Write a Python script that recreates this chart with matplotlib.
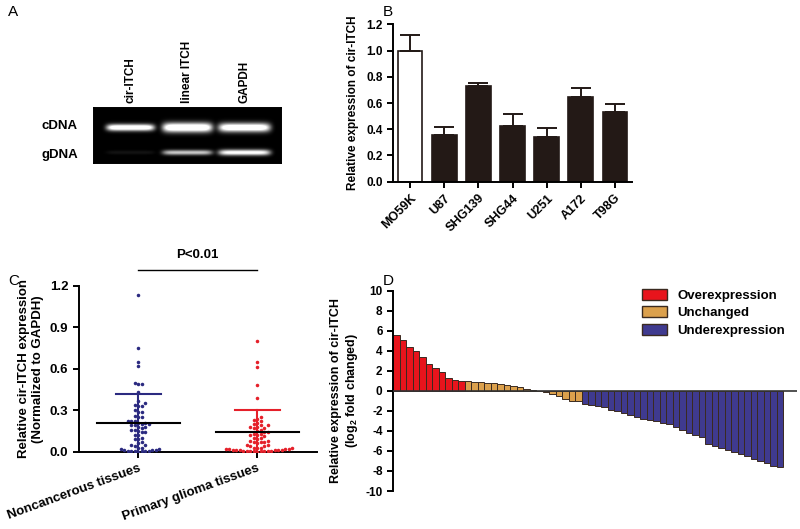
import numpy as np
import matplotlib
matplotlib.use("Agg")
import matplotlib.pyplot as plt
from matplotlib.patches import Patch

plt.rcParams['font.family'] = ['Liberation Sans', 'DejaVu Sans']
plt.rcParams['font.weight'] = 'bold'
plt.rcParams['axes.labelweight'] = 'bold'
plt.rcParams['mathtext.fontset'] = 'custom'
plt.rcParams['mathtext.rm'] = 'Liberation Sans:bold'
plt.rcParams['mathtext.bf'] = 'Liberation Sans:bold'
plt.rcParams['axes.linewidth'] = 1.4
plt.rcParams['xtick.major.width'] = 1.4
plt.rcParams['ytick.major.width'] = 1.4

# ---- panel A: gel
lanes = ['cir-ITCH', 'linear ITCH', 'GAPDH']
cdna_int = [0.95, 1.0, 0.95]
gdna_int = [0.06, 0.6, 0.8]

# ---- panel B: cell lines
cells = ['MO59K', 'U87', 'SHG139', 'SHG44', 'U251', 'A172', 'T98G']
cell_expr = [1.0, 0.355, 0.73, 0.425, 0.338, 0.648, 0.534]
cell_err = [0.12, 0.065, 0.02, 0.09, 0.07, 0.07, 0.06]

# ---- panel C: tissues
noncancer = [1.13, 0.75, 0.65, 0.62, 0.50, 0.49, 0.49, 0.43, 0.37, 0.35, 0.34, 0.33,
             0.33, 0.30, 0.29, 0.29, 0.26, 0.25, 0.25, 0.22, 0.22, 0.22, 0.21, 0.21,
             0.20, 0.20, 0.19, 0.19, 0.18, 0.18, 0.17, 0.16, 0.16, 0.15, 0.14, 0.14,
             0.12, 0.12, 0.10, 0.09, 0.09, 0.07, 0.06, 0.05, 0.05, 0.04, 0.03, 0.03,
             0.02, 0.02, 0.015, 0.01, 0.01, 0.008, 0.005, 0.005, 0.004, 0.003, 0.002, 0.001]
glioma = [0.80, 0.65, 0.61, 0.48, 0.39, 0.25, 0.24, 0.23, 0.22, 0.21, 0.20, 0.19, 0.19,
          0.18, 0.18, 0.17, 0.17, 0.16, 0.15, 0.14, 0.14, 0.13, 0.13, 0.12, 0.12, 0.11,
          0.10, 0.10, 0.09, 0.08, 0.08, 0.07, 0.07, 0.07, 0.06, 0.05, 0.05, 0.04, 0.04,
          0.03, 0.03, 0.03, 0.025, 0.02, 0.02, 0.02, 0.018, 0.015, 0.015, 0.012, 0.01,
          0.01, 0.01, 0.008, 0.008, 0.005, 0.005, 0.004, 0.003, 0.002, 0.002, 0.001]
tissue_labels = ['Noncancerous tissues', 'Primary glioma tissues']
tissue_mean = [0.21, 0.14]
tissue_sd = [0.21, 0.16]

# ---- panel D: fold change
over = [5.6, 5.1, 4.4, 4.0, 3.4, 2.7, 2.3, 1.9, 1.3, 1.1, 0.95]
unch = [0.95, 0.9, 0.85, 0.8, 0.75, 0.7, 0.6, 0.5, 0.4, 0.15, 0.05, -0.05, -0.15,
        -0.3, -0.5, -0.8, -1.0, -1.0]
under = [-1.3, -1.4, -1.5, -1.6, -1.9, -2.0, -2.2, -2.4, -2.6, -2.8, -2.9, -3.0,
         -3.2, -3.3, -3.6, -3.9, -4.2, -4.4, -4.6, -5.3, -5.5, -5.7, -5.9, -6.1,
         -6.3, -6.5, -6.8, -7.0, -7.2, -7.5, -7.6]

fig = plt.figure(figsize=(8, 5.29), dpi=100)
W, H = 800, 529


def rect(x0, y0, x1, y1):
    # pixel box (top-left origin) -> figure fraction
    return [x0 / W, 1 - y1 / H, (x1 - x0) / W, (y1 - y0) / H]


# ---------- A
axA = fig.add_axes(rect(94, 108, 281, 163))
gh, gw = 55, 187
yy, xx = np.mgrid[0:gh, 0:gw]
gel = np.zeros((gh, gw))
centers = [36, 93, 150]
for i, c in enumerate(centers):
    hw = [24, 25, 26][i]
    prof = np.exp(-((xx - c) / hw) ** 8)
    gel += cdna_int[i] * prof * np.exp(-((yy - 19) / [3.4, 4.8, 4.5][i]) ** 2)
    gel += gdna_int[i] * prof * np.exp(-((yy - 44) / [2.0, 2.6, 3.0][i]) ** 2)
gel = np.clip(gel * 1.3, 0, 1)
axA.imshow(gel, cmap='gray', vmin=0, vmax=1, aspect='auto', interpolation='bilinear')
axA.set_xticks([])
axA.set_yticks([])
for i, name in enumerate(lanes):
    fig.text((94 + centers[i]) / W, 1 - 103 / H, name, rotation=90, ha='center',
             va='bottom', fontsize=8.5, fontweight='bold')
fig.text(78 / W, 1 - 126 / H, 'cDNA', ha='right', va='center', fontsize=9.5)
fig.text(78 / W, 1 - 155 / H, 'gDNA', ha='right', va='center', fontsize=9.5)

# ---------- B
axB = fig.add_axes(rect(393, 24.3, 632, 181.7))
xb = np.arange(len(cells))
bcol = ['white'] + ['#231916'] * (len(cells) - 1)
axB.bar(xb, cell_expr, width=0.72, color=bcol, edgecolor='#231916', linewidth=1.2,
        yerr=[np.zeros(len(cells)), cell_err], error_kw=dict(ecolor='#231916', elinewidth=1.4,
                                                             capsize=7, capthick=1.4))
axB.set_xlim(-0.5, 6.5)
axB.set_ylim(0, 1.2)
axB.set_yticks(np.arange(0, 1.21, 0.2))
axB.set_yticklabels(['%.1f' % v for v in np.arange(0, 1.21, 0.2)], fontsize=8.5)
axB.set_xticks(xb)
axB.set_xticklabels(cells, rotation=45, ha='right', rotation_mode='anchor', fontsize=9)
axB.tick_params(length=4)
axB.spines[['top', 'right']].set_visible(False)
axB.set_ylabel('Relative expression of cir-ITCH', fontsize=8.5, labelpad=5,
               fontweight='bold')

# ---------- C
axC = fig.add_axes(rect(78.7, 285.7, 316.7, 451.7))
ppu = 166 / 1.2   # px per y unit
ppx = 119.7       # px per x unit
dd = 3.5          # marker spacing px


def swarm(vals):
    placed = []
    offs = []
    for v in sorted(vals):
        y = v * ppu
        k = 0
        while True:
            cand = [0] if k == 0 else [k * dd, -k * dd]
            ok = None
            for x in cand:
                if all((x - px) ** 2 + (y - py) ** 2 >= (dd * 0.98) ** 2 for px, py in placed):
                    ok = x
                    break
            if ok is not None:
                placed.append((ok, y))
                offs.append(ok / ppx)
                break
            k += 1
    return np.array(sorted(vals)), np.array(offs)


for i, (vals, col) in enumerate([(noncancer, '#2b2a80'), (glioma, '#e5202a')]):
    v, o = swarm(vals)
    axC.scatter(i + o, v, s=6.5, color=col, linewidths=0, zorder=3)
    axC.plot([i - 0.35, i + 0.35], [tissue_mean[i]] * 2, color='black', lw=1.5, zorder=4)
    top = tissue_mean[i] + tissue_sd[i]
    axC.plot([i - 0.19, i + 0.19], [top] * 2, color=col, lw=1.5, zorder=4)
    axC.plot([i, i], [0, top], color=col, lw=1.5, zorder=2)
axC.set_xlim(-0.5, 1.5)
axC.set_ylim(0, 1.2)
axC.set_yticks([0, 0.3, 0.6, 0.9, 1.2])
axC.set_yticklabels(['0.0', '0.3', '0.6', '0.9', '1.2'], fontsize=9.5)
axC.set_xticks([0, 1])
axC.set_xticklabels(tissue_labels, rotation=20, ha='right', rotation_mode='anchor',
                    fontsize=9.5)
axC.tick_params(length=4)
axC.spines[['top', 'right']].set_visible(False)
axC.set_ylabel('Relative cir-ITCH expression\n(Normalized to GAPDH)', fontsize=9.5,
               labelpad=4, fontweight='bold')
axC.plot([0, 1], [1.314, 1.314], color='black', lw=1.0, clip_on=False)
axC.text(0.5, 1.38, 'P<0.01', ha='center', va='bottom', fontsize=9.5)

# ---------- D
axD = fig.add_axes(rect(393, 290.7, 797, 491))
vals = over + unch + under
cols = ['#e8141c'] * len(over) + ['#dba04c'] * len(unch) + ['#3f3a8f'] * len(under)
xd = np.arange(len(vals))
axD.bar(xd, vals, width=1.0, color=cols, edgecolor='#3a2a20', linewidth=0.7, zorder=2)
axD.axhline(0, color='#333333', lw=1.2, zorder=3)
axD.set_xlim(-0.5, -0.5 + 404 / 6.5)
axD.set_ylim(-10, 10)
axD.set_yticks(np.arange(-10, 11, 2))
axD.set_yticklabels([str(v) for v in range(-10, 11, 2)], fontsize=8.5)
axD.set_xticks([])
axD.tick_params(length=4)
axD.spines[['top', 'right', 'bottom']].set_visible(False)
axD.set_ylabel('Relative expression of cir-ITCH\n(log$_{2}$ fold changed)', fontsize=9,
               labelpad=4, fontweight='bold')
handles = [Patch(facecolor='#e8141c', edgecolor='#3a2a20', label='Overexpression'),
           Patch(facecolor='#dba04c', edgecolor='#3a2a20', label='Unchanged'),
           Patch(facecolor='#3f3a8f', edgecolor='#3a2a20', label='Underexpression')]
axD.legend(handles=handles, loc='upper right', bbox_to_anchor=(1.0, 1.07), frameon=False,
           fontsize=9.5, handlelength=1.9, handleheight=0.9, labelspacing=0.35,
           handletextpad=0.8)

# panel letters
for lab, x, y in [('A', 8, 12), ('B', 383, 12), ('C', 8, 281), ('D', 383, 281)]:
    fig.text(x / W, 1 - y / H, lab, fontsize=11, fontweight='normal', va='center')

fig.savefig('out.png', dpi=100)
